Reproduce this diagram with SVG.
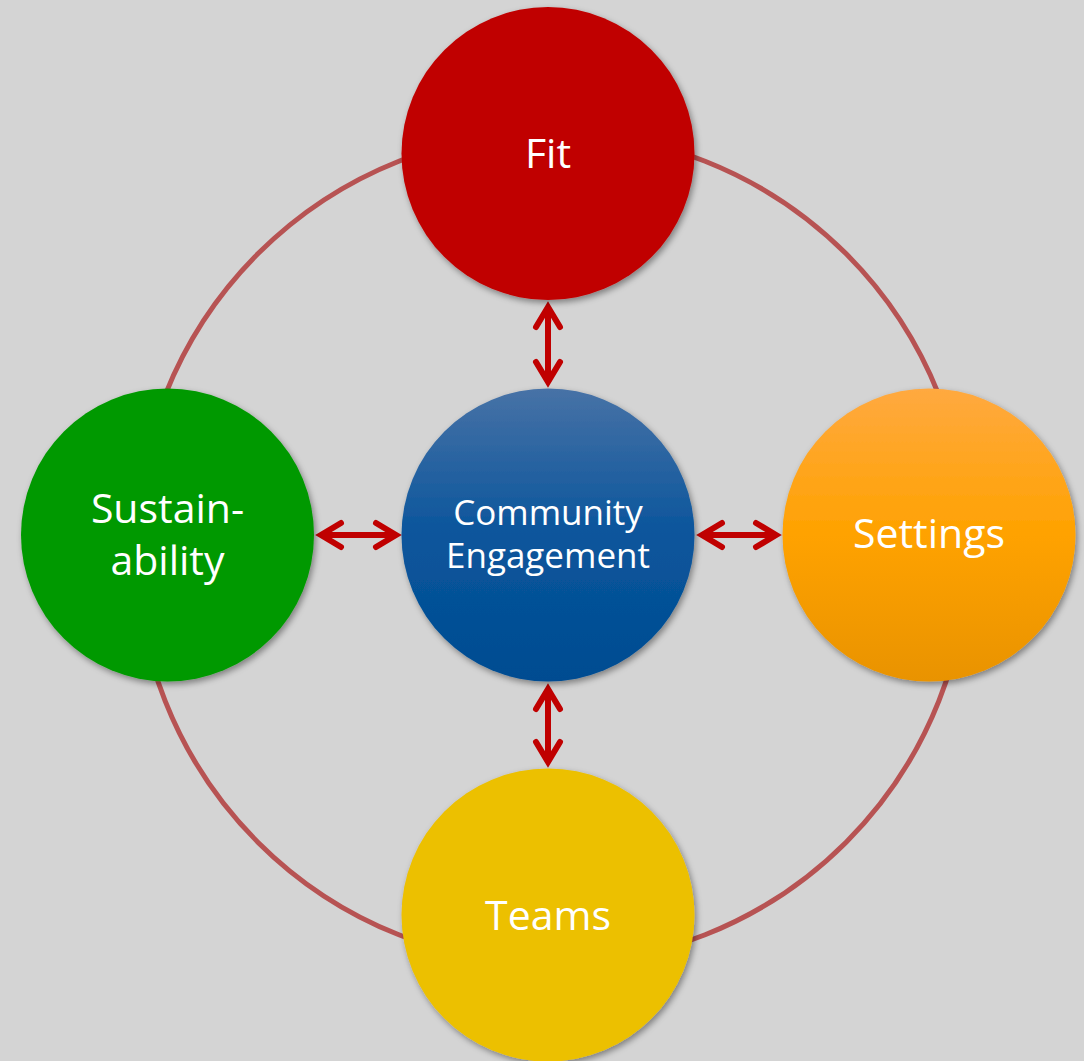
<svg xmlns="http://www.w3.org/2000/svg" width="1084" height="1061" viewBox="0 0 1084 1061">
  <defs>
    <style>
      .ring { fill: none; stroke: #b75353; stroke-width: 5; }
      .node { filter: url(#shadow); }
      .label { fill: #ffffff; font-family: "Open Sans", "Liberation Sans", sans-serif; text-anchor: middle; }
      .big { font-size: 41px; }
      .small { font-size: 35px; }
      .link { stroke: #c00000; stroke-width: 6; fill: none; marker-start: url(#chev); marker-end: url(#chev); }
    </style>
    <filter id="shadow" x="-20%" y="-20%" width="140%" height="140%">
      <feDropShadow dx="2" dy="3" stdDeviation="3" flood-color="#000" flood-opacity="0.4"/>
    </filter>
    <linearGradient id="blueGrad" x1="0" y1="0" x2="0" y2="1">
      <stop offset="0" stop-color="#4772a6"/>
      <stop offset="0.5" stop-color="#0a559c"/>
      <stop offset="1" stop-color="#004c91"/>
    </linearGradient>
    <linearGradient id="orangeGrad" x1="0" y1="0" x2="0" y2="1">
      <stop offset="0" stop-color="#ffa940"/>
      <stop offset="0.5" stop-color="#ffa200"/>
      <stop offset="1" stop-color="#e99300"/>
    </linearGradient>
    <!-- open chevron head used on both ends of every link -->
    <marker id="chev" markerUnits="userSpaceOnUse" orient="auto-start-reverse" refX="0" refY="0" markerWidth="40" markerHeight="40" overflow="visible">
      <path d="M -20 -12 L 0 0 L -20 12" fill="none" stroke="#c00000" stroke-width="6" stroke-linecap="round" stroke-linejoin="miter"/>
    </marker>
  </defs>

  <rect width="1084" height="1061" fill="#d4d4d4"/>

  <!-- outer ring behind the nodes -->
  <circle class="ring" cx="552" cy="548" r="416"/>

  <g id="connectors">
    <line class="link" x1="548" y1="307" x2="548" y2="382"/>
    <line class="link" x1="548" y1="689" x2="548" y2="762"/>
    <line class="link" x1="321" y1="535" x2="396" y2="535"/>
    <line class="link" x1="702" y1="535" x2="776" y2="535"/>
  </g>

  <g id="fit">
    <circle class="node" cx="548" cy="153.5" r="146.5" fill="#c00000"/>
    <text class="label big" x="548" y="168">Fit</text>
  </g>

  <g id="sustainability">
    <circle class="node" cx="167.5" cy="535" r="146.5" fill="#009900"/>
    <text class="label big" x="167.5" y="523">Sustain-</text>
    <text class="label big" x="167.5" y="575">ability</text>
  </g>

  <g id="community-engagement">
    <circle class="node" cx="548" cy="535" r="146.5" fill="url(#blueGrad)"/>
    <text class="label small" x="548" y="525">Community</text>
    <text class="label small" x="548" y="568">Engagement</text>
  </g>

  <g id="settings">
    <circle class="node" cx="929" cy="535" r="146.5" fill="url(#orangeGrad)"/>
    <text class="label big" x="929" y="548">Settings</text>
  </g>

  <g id="teams">
    <circle class="node" cx="548" cy="915" r="146.5" fill="#ecc000"/>
    <text class="label big" x="548" y="930">Teams</text>
  </g>
</svg>
